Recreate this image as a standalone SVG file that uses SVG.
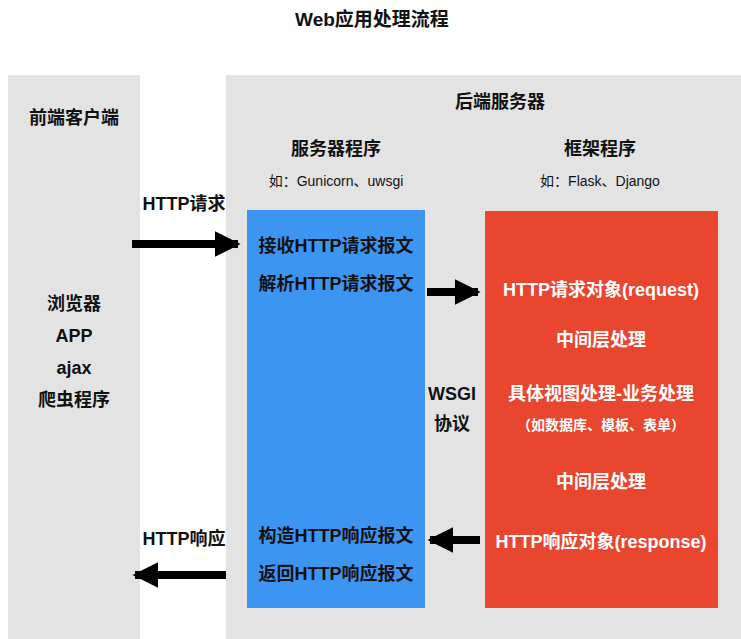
<svg xmlns="http://www.w3.org/2000/svg" width="741" height="639" viewBox="0 0 741 639">
<style>
text{font-family:"Liberation Sans","Noto Sans CJK SC",sans-serif;font-weight:bold;text-anchor:middle;fill:#111}
.w{fill:#fff}
.s{font-size:14px;font-weight:normal}
.m{font-size:18px}
</style>
<defs>
<marker id="ah" viewBox="0 0 10 10" refX="9" refY="5" markerWidth="3.2" markerHeight="3.2" orient="auto"><path d="M0,0L10,5L0,10z" fill="#000"/></marker>
</defs>
<rect width="741" height="639" fill="#fff"/>
<text x="372" y="26" font-size="19">Web应用处理流程</text>
<g id="client">
<rect x="8" y="75" width="132" height="564" fill="#e3e3e3"/>
<text x="74" y="124" class="m">前端客户端</text>
<text x="74" y="310" class="m">浏览器</text>
<text x="74" y="342" class="m">APP</text>
<text x="74" y="374" class="m">ajax</text>
<text x="74" y="406" class="m">爬虫程序</text>
</g>
<g id="backend">
<rect x="226" y="75" width="515" height="564" fill="#e3e3e3"/>
<text x="500" y="108" class="m">后端服务器</text>
<text x="336" y="155" class="m">服务器程序</text>
<text x="336" y="186" class="s">如：Gunicorn、uwsgi</text>
<text x="600" y="155" class="m">框架程序</text>
<text x="600" y="186" class="s">如：Flask、Django</text>
</g>
<g id="server">
<rect x="247" y="210" width="178" height="398" fill="#3d95f2"/>
<text x="336" y="252" class="m">接收HTTP请求报文</text>
<text x="336" y="290" class="m">解析HTTP请求报文</text>
<text x="336" y="542" class="m">构造HTTP响应报文</text>
<text x="336" y="580" class="m">返回HTTP响应报文</text>
</g>
<g id="framework">
<rect x="485" y="211" width="233" height="397" fill="#e8462f"/>
<text x="601" y="296" class="m w">HTTP请求对象(request)</text>
<text x="601" y="346" class="m w">中间层处理</text>
<text x="601" y="400" class="m w">具体视图处理-业务处理</text>
<text x="601" y="430" class="s w" style="font-weight:bold">（如数据库、模板、表单）</text>
<text x="601" y="488" class="m w">中间层处理</text>
<text x="601" y="548" class="m w">HTTP响应对象(response)</text>
</g>
<text x="452" y="400" class="m">WSGI</text>
<text x="452" y="430" class="m">协议</text>
<text x="184" y="210" class="m">HTTP请求</text>
<text x="184" y="545" class="m">HTTP响应</text>
<g id="connectors" stroke="#000" stroke-width="8" marker-end="url(#ah)">
<line x1="132" y1="244" x2="238" y2="244"/>
<line x1="427" y1="292" x2="478" y2="292"/>
<line x1="480" y1="540" x2="430" y2="540"/>
<line x1="226" y1="575" x2="135" y2="575"/>
</g>
</svg>
